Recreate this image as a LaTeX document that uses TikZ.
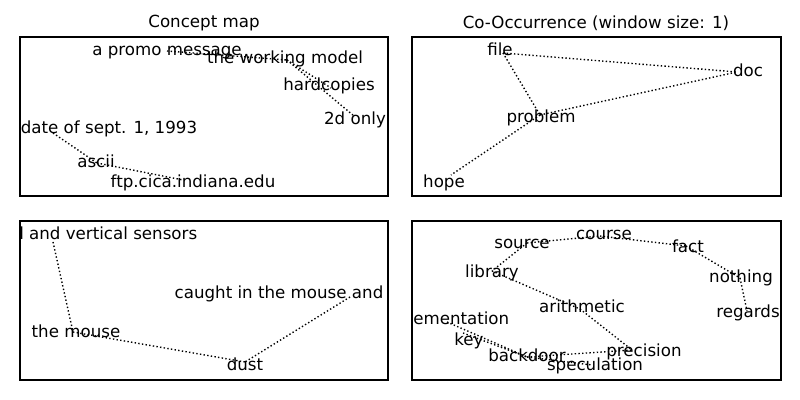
\documentclass[tikz,border=0pt]{standalone}
\usepackage{fontspec}
\setmainfont{DejaVu Sans}
\usepackage{tikz}
\usetikzlibrary{positioning}

\begin{document}
\begin{tikzpicture}[x=0.72pt,y=-0.72pt,
        word/.style={inner sep=0pt, text height=8pt, text depth=0pt,
        font=\fontsize{12}{14}\selectfont},
        heading/.style={inner sep=0pt, font=\fontsize{12}{14}\selectfont},
        link/.style={draw, line width=1pt, dash pattern=on 1pt off 1.65pt},
        frame/.style={draw, line width=0.8pt}
        ]
        \useasboundingbox (0,0) rectangle (800,400);

        % titles
        \node [heading] (t1) at (204,23) {Concept map};
        \node [heading] (t2) at (596,23) {Co-Occurrence (window size: 1)};

        % concept map
        \coordinate (promo) at (167,51);
        \coordinate (model) at (287,60);
        \coordinate (hardc) at (331,88);
        \coordinate (only2d) at (354,116);
        \coordinate (date) at (53,133);
        \coordinate (ascii) at (97,163);
        \coordinate (ftp) at (183,180);

        \path[link]
        (promo) edge (model)
        (model) edge (hardc)
        (model) edge (only2d)
        (date) edge (ascii)
        (ascii) edge (ftp)
        ;

        \node [word] (w-promo) at (167,50) {a promo message};
        \node [word] (w-model) at (285,58) {the working model};
        \node [word] (w-hardc) at (329,85) {hardcopies};
        \node [word] (w-only2d) at (355,119) {2d only};
        \node [word] (w-date) at (109,128) {date of sept. 1, 1993};
        \node [word] (w-ascii) at (96,162) {ascii};
        \node [word] (w-ftp) at (193,182) {ftp.cica.indiana.edu};

        % co-occurrence
        \coordinate (file) at (503,53);
        \coordinate (doc) at (737,72);
        \coordinate (problem) at (540,115);
        \coordinate (hope) at (451,175);

        \path[link]
        (file) edge (doc)
        (file) edge (problem)
        (problem) edge (doc)
        (problem) edge (hope)
        ;

        \node [word] (w-file) at (500,50) {file};
        \node [word] (w-doc) at (748,71) {doc};
        \node [word] (w-problem) at (541,117) {problem};
        \node [word] (w-hope) at (444,182) {hope};

        % lower left
        \coordinate (sensors) at (53,242);
        \coordinate (mouse) at (73,332);
        \coordinate (caught) at (350,297);
        \coordinate (dust) at (245,362);

        \path[link]
        (sensors) edge (mouse)
        (mouse) edge (dust)
        (caught) edge (dust)
        ;

        \node [word, anchor=west] (w-sensors) at (19,234) {l and vertical sensors};
        \node [word] (w-mouse) at (76,332) {the mouse};
        \node [word] (w-caught) at (279,293) {caught in the mouse and};
        \node [word] (w-dust) at (245,365) {dust};

        % lower right
        \coordinate (course) at (600,236);
        \coordinate (source) at (527,243);
        \coordinate (fact) at (686,246);
        \coordinate (library) at (492,271);
        \coordinate (nothing) at (740,278);
        \coordinate (arith) at (580,309);
        \coordinate (regards) at (747,311);
        \coordinate (impl) at (447,322);
        \coordinate (key) at (463,333);
        \coordinate (backdoor) at (527,357);
        \coordinate (precision) at (632,350);
        \coordinate (specul) at (592,365);

        \path[link]
        (source) edge (course)
        (course) edge (fact)
        (source) edge (library)
        (library) edge (arith)
        (arith) edge (precision)
        (fact) edge (nothing)
        (nothing) edge (regards)
        (impl) edge (backdoor)
        (key) edge (backdoor)
        (backdoor) edge (precision)
        (backdoor) edge (specul)
        ;

        \node [word] (w-course) at (604,234) {course};
        \node [word] (w-source) at (522,243) {source};
        \node [word] (w-fact) at (688,247) {fact};
        \node [word] (w-library) at (492,272) {library};
        \node [word] (w-nothing) at (741,277) {nothing};
        \node [word] (w-arith) at (582,307) {arithmetic};
        \node [word] (w-regards) at (748,312) {regards};
        \node [word, anchor=west] (w-impl) at (413,319) {ementation};
        \node [word] (w-key) at (469,340) {key};
        \node [word] (w-backdoor) at (527,356) {backdoor};
        \node [word] (w-precision) at (644,351) {precision};
        \node [word] (w-specul) at (595,365) {speculation};

        % frames
        \draw[frame] (20,37) rectangle (388,196);
        \draw[frame] (412,37) rectangle (781,196);
        \draw[frame] (20,221) rectangle (388,380);
        \draw[frame] (412,221) rectangle (781,380);
     \end{tikzpicture}
\end{document}
